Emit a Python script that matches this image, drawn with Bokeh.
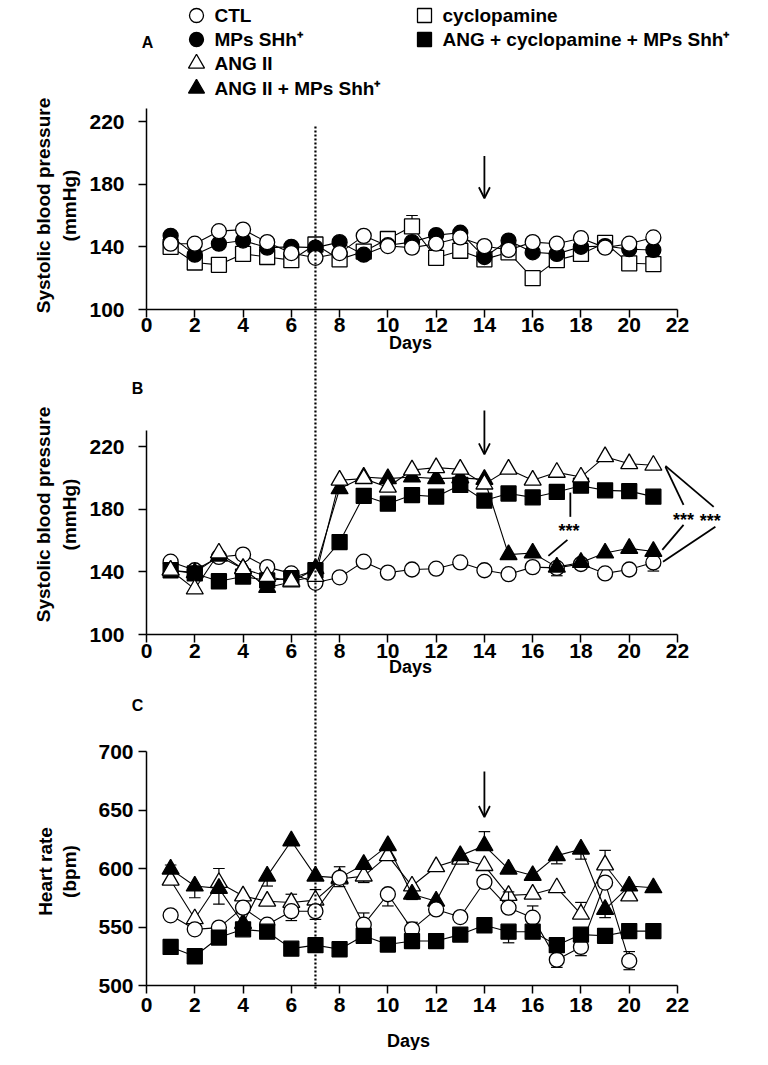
from math import pi
from bokeh.plotting import figure
from bokeh.models import Range1d, LinearAxis, FixedTicker, Arrow, OpenHead
from bokeh.core.properties import value
from bokeh.embed import file_html
from bokeh.resources import INLINE

FONT = "Liberation Sans"

# ------------------------------------------------------------------ data
days = list(range(1, 22))
days20 = list(range(1, 21))
x_ticks = list(range(0, 23, 2))

labels = ["CTL", "MPs SHh\u207a", "ANG II", "ANG II + MPs Shh\u207a",
          "cyclopamine", "ANG + cyclopamine + MPs Shh\u207a"]

# Panel A - systolic blood pressure (mmHg)
A_ctl = [142, 142, 150, 151, 143, 136, 133, 136, 147, 140.5, 139.5, 142, 146, 140.5,
         138, 143, 142, 145.5, 139.5, 142, 146]
A_mps = [147, 135, 142, 144, 139.5, 140, 139.5, 143, 135, 141, 143, 147.5, 149, 133.5,
         144, 136.5, 135.5, 140, 140.5, 138.5, 138]
A_cyc = [140, 130, 128.5, 135.5, 133.5, 131.5, 141.5, 132, 137, 145, 153, 133, 137.5, 132,
         136.5, 120, 131.5, 135.5, 142.5, 129.5, 129]
A_cyc_caps = [(11, 160)]

# Panel B - systolic blood pressure (mmHg)
B_ctl = [146.5, 141, 149.5, 151, 143, 139, 133, 136.5, 146.5, 139.5, 141.5, 142, 146, 141,
         138.5, 143, 142.5, 145, 139, 141.5, 146]
B_ang = [141, 129, 152, 142, 137, 134, 137, 198.5, 199.5, 194, 205, 206.5, 205.5, 196,
         205.5, 198.5, 203.5, 200.5, 213.5, 209, 208]
B_angmps = [141, 139.5, 150, 142, 130, 133.5, 142, 193, 200.5, 199.5, 200.5, 199.5, 200, 199,
            151, 152, 143, 146, 152, 155, 153]
B_angcyc = [141, 139, 134, 137, 134.5, 136, 141, 159, 188.5, 183.5, 189, 188, 195.5, 185.5,
            190, 187.5, 191, 195, 192, 191.5, 188]
B_ctl_caps = [(17, 137.5), (21, 140.5)]

# Panel C - heart rate (bpm)
C_ctl = [560, 548, 549.5, 566.5, 552, 563.5, 563.5, 592, 552, 578, 548, 565, 558.5, 588.5,
         566.5, 558, 522, 533, 588, 521]
C_ang = [590, 557, 588, 576.5, 572, 571, 573, 591, 593.5, 611, 585, 601.5, 608, 602.5,
         577, 578, 583.5, 561, 603, 576.5]
C_angmps = [599.5, 585, 583, 553, 593.5, 623.5, 593.5, 592, 603.5, 619.5, 578, 572, 611, 619.5,
            599.5, 594, 611, 616.5, 565, 585, 583.5]
C_angcyc = [533, 525, 541, 548, 546, 531.5, 534.5, 531, 542.5, 535, 538, 538, 543.5, 551.5,
            546, 546, 534.5, 543.5, 542.5, 546.5, 546.5]
C_ctl_caps = [(6, 555.5), (7, 556.5), (8, 601.5), (8, 584.5), (9, 562), (10, 568), (11, 554),
              (15, 580), (16, 568), (17, 515.5), (18, 525.5), (20, 529), (20, 513.5)]
C_ang_caps = [(3, 600), (6, 578), (7, 582), (9, 588), (18, 571), (19, 615.5)]
C_angmps_caps = [(1, 603), (2, 575), (3, 569.5), (5, 585), (11, 573.5), (14, 631.5),
                 (17, 604), (18, 608), (19, 558)]
C_angcyc_caps = [(15, 536.5)]

# ------------------------------------------------------------------ layout (picture pixels)
W, H = 752, 1050
TOP = 0          # picture pixel where the figure's top-left corner lands
X_DAY0, X_DAY22 = 146, 677
PPD = (X_DAY22 - X_DAY0) / 22.0


def yrange(pix_lo, v_lo, pix_hi, v_hi):
    k = (pix_lo - pix_hi) / float(v_hi - v_lo)
    return Range1d(v_lo - (TOP + H - pix_lo) / k, v_lo + (pix_lo - TOP) / k)


rA = yrange(309, 100, 121, 220)
rB = yrange(634, 100, 446, 220)
rC = yrange(985, 500, 751, 700)

p = figure(width=W, height=H,
           x_range=Range1d((TOP - X_DAY0) / PPD, (TOP + W - X_DAY0) / PPD),
           y_range=rA, x_axis_type=None, y_axis_type=None,
           toolbar_location=None, output_backend="svg", min_border=0,
           outline_line_color=None, background_fill_color="white")
p.extra_y_ranges = {"B": rB, "C": rC, "px": Range1d(TOP + H, TOP)}
p.extra_x_ranges = {"px": Range1d(TOP, TOP + W)}

axis_style = dict(axis_line_color="black", axis_line_width=1.5,
                  major_tick_line_color="black", major_tick_line_width=1.5,
                  major_tick_in=0, major_tick_out=8,
                  minor_tick_line_color=None,
                  major_label_text_font=FONT, major_label_text_font_size="21px",
                  major_label_text_font_style="bold", major_label_text_color="black")

panels = [("default", 100, 228, [100, 140, 180, 220], 14, 0),
          ("B", 100, 230, [100, 140, 180, 220], 14, 1),
          ("C", 500, 700, [500, 550, 600, 650, 700], 5, 4)]
for name, lo, top, ticks, sto, xsto in panels:
    xa = LinearAxis(y_range_name=name, fixed_location=lo, bounds=(0, 22),
                    ticker=FixedTicker(ticks=x_ticks), major_label_standoff=xsto, **axis_style)
    p.add_layout(xa, "below")
    ya = LinearAxis(y_range_name=name, fixed_location=0, bounds=(lo, top),
                    ticker=FixedTicker(ticks=ticks), major_label_standoff=sto, **axis_style)
    p.add_layout(ya, "left")

MK = {"circle": 15, "square": 15, "triangle": 17}


def series(xs, ys, rn, marker, fill, caps=()):
    for d, c in caps:
        m = ys[xs.index(d)]
        p.segment(x0=[d], y0=[m], x1=[d], y1=[c], y_range_name=rn,
                  line_color="black", line_width=1.2)
        p.segment(x0=[d - 0.24], y0=[c], x1=[d + 0.24], y1=[c], y_range_name=rn,
                  line_color="black", line_width=1.2)
    p.line(xs, ys, y_range_name=rn, line_color="black", line_width=1.1)
    p.scatter(xs, ys, y_range_name=rn, marker=marker, size=MK[marker],
              fill_color=fill, line_color="black", line_width=1.3)


# Panel A
series(days, A_cyc, "default", "square", "white", A_cyc_caps)
series(days, A_mps, "default", "circle", "black")
series(days, A_ctl, "default", "circle", "white")
# Panel B
series(days, B_ctl, "B", "circle", "white", B_ctl_caps)
series(days, B_angcyc, "B", "square", "black")
series(days, B_angmps, "B", "triangle", "black")
series(days, B_ang, "B", "triangle", "white")
# Panel C
series(days20, C_ang, "C", "triangle", "white", C_ang_caps)
series(days, C_angmps, "C", "triangle", "black", C_angmps_caps)
series(days20, C_ctl, "C", "circle", "white", C_ctl_caps)
series(days, C_angcyc, "C", "square", "black", C_angcyc_caps)

# dotted line at day 7 through all panels
p.segment(x0=[7], y0=[126], x1=[7], y1=[988], y_range_name="px",
          line_color="black", line_width=2.2, line_dash="2 2")

# arrows at day 14
for rn, ys, ye in [("default", 198, 171), ("B", 243, 215), ("C", 683, 644)]:
    p.add_layout(Arrow(x_start=14, y_start=ys, x_end=14, y_end=ye, y_range_name=rn,
                       line_width=1.8, end=OpenHead(size=11, line_width=1.8)))

# significance marks in panel B
sx0 = [17.56, 16.65, 21.5, 21.37, 21.5, 21.4]
sy0 = [190.6, 150.2, 207.0, 154.0, 207.6, 146.4]
sx1 = [17.56, 17.44, 22.25, 22.25, 23.5, 23.57]
sy1 = [175.1, 160.4, 182.8, 170.0, 181.5, 168.7]
p.segment(x0=sx0, y0=sy0, x1=sx1, y1=sy1, y_range_name="B", line_color="black", line_width=1.8)
p.text(x=[17.5, 22.25, 23.36], y=[166, 173, 172.5], text=["***"] * 3, y_range_name="B",
       text_font=value(FONT), text_font_style="bold", text_font_size="18px",
       text_align="center", text_baseline="middle", text_color="black")

txt = dict(x_range_name="px", y_range_name="px", text_font=value(FONT),
           text_font_style="bold", text_color="black", text_baseline="middle")

# legend
leg_x = [196, 196, 196, 196, 424, 424]
leg_y = [15, 39, 63, 88, 15, 39]
leg_m = ["circle", "circle", "triangle", "triangle", "square", "square"]
leg_f = ["white", "black", "white", "black", "white", "black"]
for xx, yy, mm, ff in zip(leg_x, leg_y, leg_m, leg_f):
    p.scatter([xx], [yy], x_range_name="px", y_range_name="px", marker=mm,
              size=MK[mm] - 1, fill_color=ff, line_color="black", line_width=1.3)
p.text(x=[xx + 18 for xx in leg_x], y=leg_y, text=labels, text_align="left",
       text_font_size="19px", **txt)

# panel letters
p.text(x=[147, 137, 137], y=[42, 388, 705], text=["A", "B", "C"], text_align="center",
       text_font_size="16px", **txt)

# x-axis titles
p.text(x=[410, 410, 408], y=[342, 666, 1040], text=["Days"] * 3, text_align="center",
       text_font_size="18px", **txt)

# y-axis titles
p.text(x=[43, 69, 43, 69, 45, 69], y=[205, 205, 514, 514, 871, 871],
       text=["Systolic blood pressure", "(mmHg)", "Systolic blood pressure", "(mmHg)",
             "Heart rate", "(bpm)"],
       angle=pi / 2, text_align="center", text_font_size="19px", **txt)

open("out.html", "w").write(file_html(p, INLINE))
